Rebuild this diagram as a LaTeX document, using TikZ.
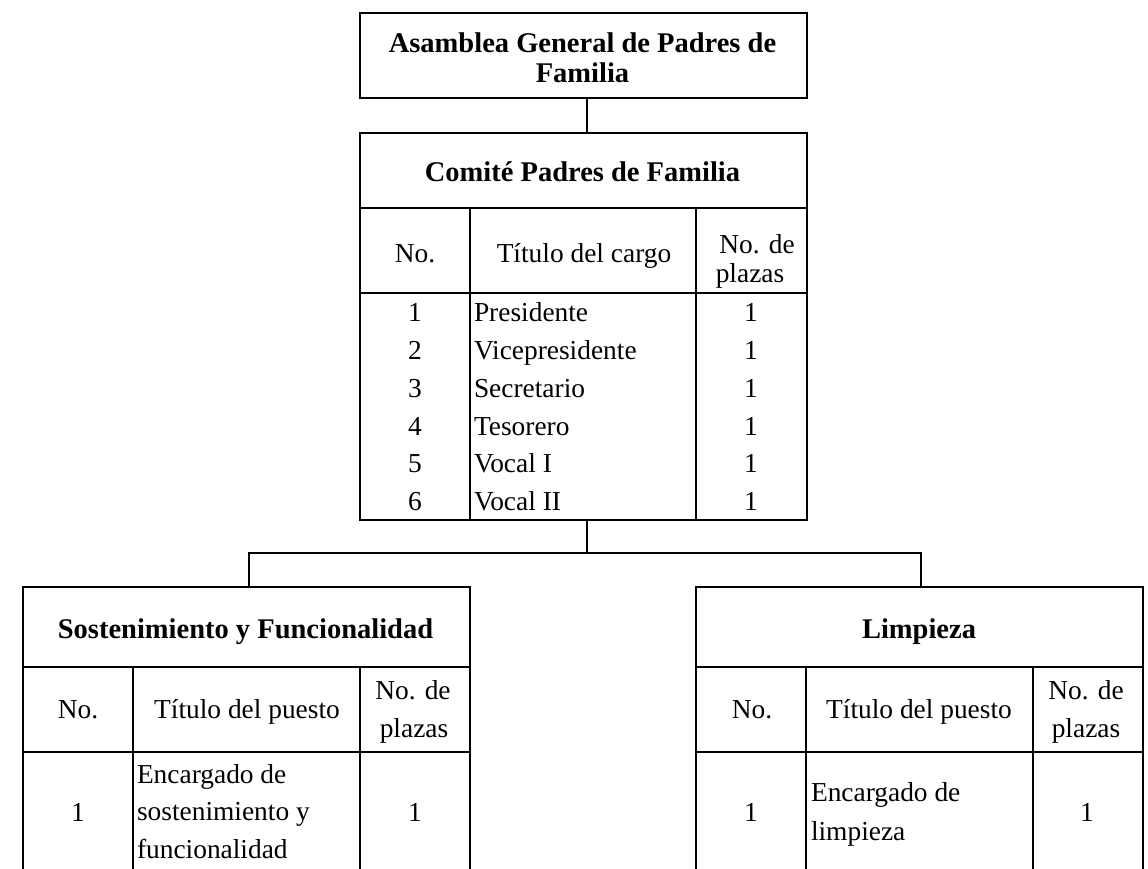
\documentclass[tikz,border=0pt]{standalone}
\usepackage{fontspec}
\setmainfont{Liberation Serif}
\begin{document}
\begin{tikzpicture}[x=1pt,y=-1pt,
  ln/.style={line width=2pt, line cap=rect},
  cellbox/.style={draw, line width=2pt, rectangle, inner sep=0pt, outer sep=0pt, minimum width=447pt},
  txt/.style={anchor=base, inner sep=0pt, outer sep=0pt, font=\fontsize{27.4}{32}\selectfont},
  ltxt/.style={txt, anchor=base west},
  ttl/.style={anchor=base, inner sep=0pt, outer sep=0pt, font=\fontsize{28.5}{32}\selectfont\bfseries}]
\useasboundingbox (0,0) rectangle (1148,869);
\fill[white] (0,0) rectangle (1148,869);

% ---- boxes
\node[cellbox, minimum height=85pt] (asam) at (583.5,55.5) {};
\node[cellbox, minimum height=387pt] (comite) at (583.5,326.5) {};
\node[cellbox, minimum height=80pt] (sostit) at (246.5,627) {};
\node[cellbox, minimum height=80pt] (limtit) at (919.5,627) {};

% ---- Comite grid
\draw[ln] (360,208) -- (807,208);
\draw[ln] (360,293) -- (807,293);
\draw[ln] (470,208) -- (470,520);
\draw[ln] (696,208) -- (696,520);

% ---- left table grid (open at bottom)
\draw[ln] (23,667) -- (23,869);
\draw[ln] (470,667) -- (470,869);
\draw[ln] (23,752) -- (470,752);
\draw[ln] (133,667) -- (133,869);
\draw[ln] (360,667) -- (360,869);

% ---- right table grid
\draw[ln] (696,667) -- (696,869);
\draw[ln] (1143,667) -- (1143,869);
\draw[ln] (696,752) -- (1143,752);
\draw[ln] (806,667) -- (806,869);
\draw[ln] (1033,667) -- (1033,869);

% ---- connectors
\coordinate (j0) at (586.5,553);
\coordinate (jl) at (249,553);
\coordinate (jr) at (921,553);
\draw[ln] (asam.south -| j0) -- (comite.north -| j0);
\draw[ln] (comite.south -| j0) -- (j0);
\draw[ln] (jl) -- (jr);
\draw[ln] (jl) -- (jl |- sostit.north);
\draw[ln] (jr) -- (jr |- limtit.north);

% ---- texts: top
\node[ttl] (t1) at (582.5,53) {Asamblea General de Padres de};
\node[ttl] (t2) at (582.5,83) {Familia};

% ---- Comite
\node[ttl] (c0) at (582.5,182) {Comité Padres de Familia};
\node[txt] (ch1) at (415,262) {No.};
\node[txt] (ch2) at (584,262) {Título del cargo};
\node[txt] (ch3) at (757,253) {No. de};
\node[txt] (ch4) at (750,282) {plazas};
\foreach \n/\t [count=\k from 0] in {1/Presidente,2/Vicepresidente,3/Secretario,4/Tesorero,5/Vocal I,6/Vocal II}{
  \node[txt] (cn\n) at (415,321.7+37.8*\k) {\n};
  \node[ltxt] (ct\n) at (474,321.7+37.8*\k) {\t};
  \node[txt] (cp\n) at (751,321.7+37.8*\k) {1};
}

% ---- left table
\node[ttl] (s0) at (245.5,638) {Sostenimiento y Funcionalidad};
\node[txt] (sh1) at (78,718) {No.};
\node[txt] (sh2) at (247,718) {Título del puesto};
\node[txt] (sh3) at (413,699) {No. de};
\node[txt] (sh4) at (414,737) {plazas};
\node[txt] (sn) at (78,821.7) {1};
\node[ltxt] (sl1) at (137,783) {Encargado de};
\node[ltxt] (sl2) at (137,820) {sostenimiento y};
\node[ltxt] (sl3) at (137,858) {funcionalidad};
\node[txt] (sp) at (415,821.7) {1};

% ---- right table
\node[ttl] (l0) at (919,638) {Limpieza};
\node[txt] (lh1) at (752,718) {No.};
\node[txt] (lh2) at (919,718) {Título del puesto};
\node[txt] (lh3) at (1086,699) {No. de};
\node[txt] (lh4) at (1086,737) {plazas};
\node[txt] (ln1) at (751,821.7) {1};
\node[ltxt] (ll1) at (811,801.7) {Encargado de};
\node[ltxt] (ll2) at (811,840) {limpieza};
\node[txt] (lp) at (1087,821.7) {1};
\end{tikzpicture}
\end{document}
